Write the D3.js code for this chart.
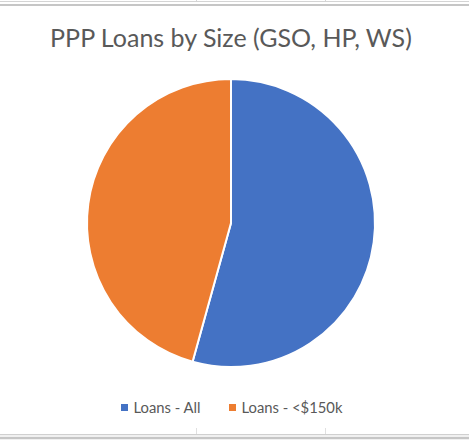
<!DOCTYPE html>
<html><head><meta charset="utf-8">
<script src="https://cdn.jsdelivr.net/npm/d3@7"></script>
<style>
html,body{margin:0;padding:0;background:#fff;overflow:hidden}
svg{display:block}
</style></head>
<body>
<svg id="c" width="469" height="440"></svg>
<script>
const categories = ["Loans - All", "Loans - <$150k"];
const values = [54.3, 45.7];
const colors = ["#4472C4", "#ED7D31"];
const title = "PPP Loans by Size (GSO, HP, WS)";

const svg = d3.select("#c");
const W = 469, H = 440;
const font = "Lato, 'Open Sans', sans-serif";

// spreadsheet gridlines around the chart
const grid = svg.append("g").attr("stroke-width", 1).attr("shape-rendering", "crispEdges");
grid.append("line").attr("x1",0).attr("x2",W).attr("y1",1.5).attr("y2",1.5).attr("stroke","#d4d4d4");
grid.append("line").attr("x1",0).attr("x2",W).attr("y1",4.5).attr("y2",4.5).attr("stroke","#c6c6c6").attr("stroke-width",2);
grid.append("line").attr("x1",196.5).attr("x2",196.5).attr("y1",0).attr("y2",2).attr("stroke","#d4d4d4");
grid.append("line").attr("x1",325.5).attr("x2",325.5).attr("y1",0).attr("y2",2).attr("stroke","#d4d4d4");
grid.append("rect").attr("x",0).attr("y",434).attr("width",W).attr("height",6).attr("fill","#f0f0f0");
grid.append("line").attr("x1",0).attr("x2",W).attr("y1",434.5).attr("y2",434.5).attr("stroke","#d0d0d0");
grid.append("line").attr("x1",0).attr("x2",W).attr("y1",437.5).attr("y2",437.5).attr("stroke","#c6c6c6").attr("stroke-width",2);
grid.append("line").attr("x1",196.5).attr("x2",196.5).attr("y1",428).attr("y2",434).attr("stroke","#e0e0e0");
grid.append("line").attr("x1",325.5).attr("x2",325.5).attr("y1",428).attr("y2",434).attr("stroke","#e0e0e0");

// title
svg.append("text").attr("x", 231).attr("y", 47).attr("text-anchor","middle")
  .attr("font-family", font).attr("font-size", 25).attr("fill","#595959").text(title);

// pie
const cx = 231, cy = 223, r = 144;
const pie = d3.pie().sort(null).value(d => d);
const arc = d3.arc().innerRadius(0).outerRadius(r);
const color = d3.scaleOrdinal().domain(categories).range(colors);
svg.append("g").attr("transform", `translate(${cx},${cy})`)
  .selectAll("path").data(pie(values)).join("path")
  .attr("d", arc).attr("fill", (d,i) => color(categories[i]))
  .attr("stroke", "#fff").attr("stroke-width", 2).attr("stroke-linejoin","round");

// legend
const leg = svg.append("g").attr("font-family", font).attr("font-size", 14.8).attr("fill", "#595959");
const legX = [121, 229];
categories.forEach((c, i) => {
  leg.append("rect").attr("x", legX[i]).attr("y", 404).attr("width", 7).attr("height", 7).attr("fill", color(c));
  leg.append("text").attr("x", legX[i] + 12.5).attr("y", 413).text(c);
});
</script>
</body></html>
